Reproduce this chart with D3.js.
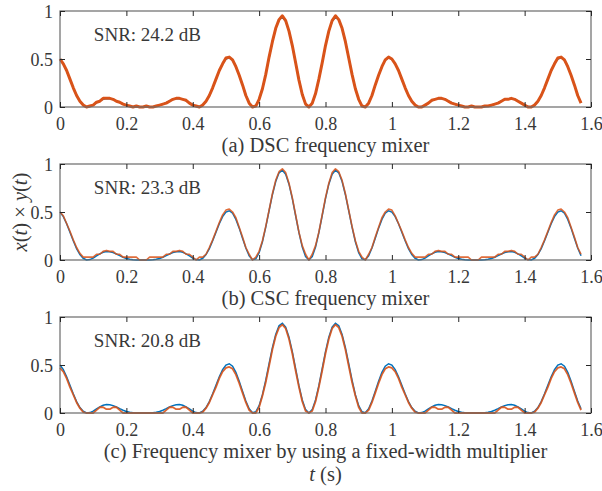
<!DOCTYPE html>
<html>
<head>
<meta charset="utf-8">
<script src="https://cdn.jsdelivr.net/npm/d3@7/dist/d3.min.js"></script>
<style>
    body { margin: 0; background: #fff; }
    svg { display: block; font-family: "Liberation Serif", "Times New Roman", serif; }
</style>
</head>
<body>
<div id="chart"></div>
<script>
// samples every 0.01 s, starting at t = 0
const dt = 0.01;

// ideal product x(t) * y(t) (blue)
const ideal = [
    .500, .452, .378, .290, .200, .119, .057, .018, .001, .004,
    .020, .042, .064, .080, .088, .086, .077, .062, .045, .029,
    .016, .007, .003, .001, .000, .000, .000, .001, .003, .007,
    .016, .029, .045, .062, .077, .086, .088, .080, .064, .042,
    .020, .004, .001, .018, .057, .119, .200, .290, .378, .452,
    .500, .513, .487, .423, .332, .226, .124, .044, .003, .012,
    .076, .190, .342, .513, .680, .818, .908, .935, .894, .790,
    .639, .461, .285, .135, .035, .000, .035, .135, .285, .461,
    .639, .790, .894, .935, .908, .818, .680, .513, .342, .190,
    .076, .012, .003, .044, .124, .226, .332, .423, .487, .513,
    .500, .452, .378, .290, .200, .119, .057, .018, .001, .004,
    .020, .042, .064, .080, .088, .086, .077, .062, .045, .029,
    .016, .007, .003, .001, .000, .000, .000, .001, .003, .007,
    .016, .029, .045, .062, .077, .086, .088, .080, .064, .042,
    .020, .004, .001, .018, .057, .119, .200, .290, .378, .452,
    .500, .513, .487, .423, .332, .226, .124, .044
];

// (a) DSC frequency mixer output
const dsc = [
    .50, .45, .38, .29, .20, .12, .06, .02, .00, .01,
    .02, .05, .06, .09, .09, .09, .08, .06, .05, .03,
    .02, .01, .00, .01, .00, .00, .01, .00, .00, .01,
    .02, .03, .04, .06, .08, .09, .09, .08, .07, .04,
    .02, .01, .00, .02, .06, .12, .20, .29, .38, .45,
    .51, .52, .49, .42, .33, .23, .12, .04, .00, .01,
    .08, .19, .34, .52, .68, .82, .91, .95, .90, .79,
    .64, .46, .28, .13, .03, .00, .04, .14, .29, .46,
    .64, .79, .90, .95, .91, .82, .68, .51, .34, .19,
    .08, .01, .00, .04, .12, .23, .33, .42, .49, .52,
    .50, .45, .38, .29, .20, .12, .06, .02, .00, .00,
    .02, .04, .07, .08, .09, .09, .08, .06, .04, .03,
    .02, .01, .00, .00, .01, .00, .00, .00, .01, .01,
    .02, .03, .04, .06, .08, .08, .09, .08, .06, .04,
    .02, .00, .00, .02, .06, .12, .20, .29, .38, .45,
    .51, .52, .49, .42, .33, .23, .12, .04
];

// (b) CSC frequency mixer output
const csc = [
    .50, .46, .38, .30, .21, .13, .07, .03, .03, .03,
    .03, .06, .06, .09, .10, .09, .09, .06, .06, .03,
    .03, .03, .03, .03, .00, .00, .00, .03, .03, .03,
    .03, .03, .06, .06, .09, .09, .10, .09, .06, .06,
    .03, .00, .03, .03, .06, .13, .21, .30, .39, .47,
    .52, .53, .50, .44, .34, .24, .13, .06, .00, .03,
    .09, .20, .35, .52, .69, .83, .92, .95, .91, .80,
    .65, .47, .29, .15, .06, .00, .06, .15, .29, .47,
    .65, .80, .91, .95, .92, .83, .69, .52, .35, .20,
    .09, .03, .00, .06, .13, .24, .34, .44, .50, .53,
    .52, .46, .38, .30, .21, .13, .07, .03, .03, .03,
    .03, .06, .06, .09, .10, .09, .09, .06, .06, .03,
    .03, .03, .03, .03, .00, .00, .00, .03, .03, .03,
    .03, .03, .06, .06, .09, .09, .10, .09, .06, .06,
    .03, .00, .03, .03, .06, .13, .21, .30, .39, .47,
    .52, .53, .50, .44, .34, .24, .13, .06
];

// (c) fixed-width multiplier output
const fixedWidth = [
    .47, .43, .36, .27, .19, .11, .05, .01, .00, .00,
    .00, .03, .06, .06, .04, .04, .06, .06, .03, .00,
    .00, .00, .00, .00, .00, .00, .00, .00, .00, .00,
    .00, .00, .03, .06, .06, .04, .04, .06, .06, .03,
    .00, .00, .00, .01, .05, .11, .19, .27, .36, .43,
    .47, .48, .46, .40, .31, .21, .11, .03, .00, .00,
    .06, .18, .32, .49, .66, .80, .89, .92, .88, .77,
    .62, .44, .27, .12, .02, .00, .02, .12, .27, .44,
    .62, .77, .88, .92, .89, .80, .66, .49, .32, .18,
    .06, .00, .00, .03, .11, .21, .31, .40, .46, .48,
    .47, .43, .36, .27, .19, .11, .05, .01, .00, .00,
    .00, .03, .06, .06, .04, .04, .06, .06, .03, .00,
    .00, .00, .00, .00, .00, .00, .00, .00, .00, .00,
    .00, .00, .03, .06, .06, .04, .04, .06, .06, .03,
    .00, .00, .00, .01, .05, .11, .19, .27, .36, .43,
    .47, .48, .46, .40, .31, .21, .11, .03
];

const xTicks = [0, 0.2, 0.4, 0.6, 0.8, 1, 1.2, 1.4, 1.6];
const yTicks = [0, 0.5, 1];

const captions = ['(a) DSC frequency mixer', '(b) CSC frequency mixer',
    '(c) Frequency mixer by using a fixed-width multiplier'];
const snrLabels = ['SNR: 24.2 dB', 'SNR: 23.3 dB', 'SNR: 20.8 dB'];

const panels = [
    { caption: captions[0], snr: snrLabels[0], values: dsc, width: 3, opacity: 1 },
    { caption: captions[1], snr: snrLabels[1], values: csc, width: 1.6, opacity: 0.85 },
    { caption: captions[2], snr: snrLabels[2], values: fixedWidth, width: 1.8, opacity: 0.9 }
];

const W = 602, H = 491;
const left = 60, right = 591, plotH = 96;
const tops = [11, 164, 317];
const textColor = '#383838';
const blue = '#0072BD', orange = '#D95319';

const svg = d3.select('#chart').append('svg')
    .attr('width', W)
    .attr('height', H);

const x = d3.scaleLinear().domain([0, 1.6]).range([left, right]);

panels.forEach((p, i) => {
    const top = tops[i];
    const y = d3.scaleLinear().domain([0, 1]).range([top + plotH, top]);
    const g = svg.append('g');

    const line = d3.line()
        .x((d, k) => x(k * dt))
        .y(d => y(d));

    g.append('path')
        .attr('d', line(ideal))
        .attr('fill', 'none')
        .attr('stroke', blue)
        .attr('stroke-width', 1.5);

    g.append('path')
        .attr('d', line(p.values))
        .attr('fill', 'none')
        .attr('stroke', orange)
        .attr('stroke-opacity', p.opacity)
        .attr('stroke-width', p.width)
        .attr('stroke-linejoin', 'round');

    // box
    g.append('rect')
        .attr('x', left)
        .attr('y', top)
        .attr('width', right - left)
        .attr('height', plotH)
        .attr('fill', 'none')
        .attr('stroke', '#6a6a6a')
        .attr('stroke-width', 1.2);

    // inward ticks on all four sides
    const styleAxis = sel => {
        sel.select('.domain').remove();
        sel.selectAll('line').attr('stroke', '#262626');
        sel.selectAll('text')
            .attr('fill', textColor)
            .style('font-size', '18px')
            .style('font-family', '"Liberation Serif", "Times New Roman", serif');
    };

    g.append('g')
        .attr('transform', `translate(0,${top + plotH})`)
        .call(d3.axisBottom(x).tickValues(xTicks).tickSizeInner(-5).tickSizeOuter(0)
            .tickFormat(d => String(d)))
        .call(styleAxis)
        .call(s => s.selectAll('text').attr('y', 23).attr('dy', null));

    g.append('g')
        .attr('transform', `translate(0,${top})`)
        .call(d3.axisTop(x).tickValues(xTicks).tickSizeInner(-5).tickSizeOuter(0).tickFormat(''))
        .call(styleAxis);

    g.append('g')
        .attr('transform', `translate(${left},0)`)
        .call(d3.axisLeft(y).tickValues(yTicks).tickSizeInner(-5).tickSizeOuter(0)
            .tickFormat(d => String(d)))
        .call(styleAxis)
        .call(s => s.selectAll('text').attr('x', -7).attr('dy', '0.34em'));

    g.append('g')
        .attr('transform', `translate(${right},0)`)
        .call(d3.axisRight(y).tickValues(yTicks).tickSizeInner(-5).tickSizeOuter(0).tickFormat(''))
        .call(styleAxis);

    g.append('text')
        .attr('x', x(0.102))
        .attr('y', top + 30)
        .attr('fill', textColor)
        .style('font-size', '19px')
        .text(p.snr);

    g.append('text')
        .attr('x', (left + right) / 2)
        .attr('y', top + plotH + 45)
        .attr('text-anchor', 'middle')
        .attr('fill', textColor)
        .style('font-size', '20.5px')
        .text(p.caption);
});

// x label
const xl = svg.append('text')
    .attr('x', (left + right) / 2)
    .attr('y', 481)
    .attr('text-anchor', 'middle')
    .attr('fill', textColor)
    .style('font-size', '20.5px');
xl.append('tspan').style('font-style', 'italic').text('t');
xl.append('tspan').text(' (s)');

// y label
const yl = svg.append('text')
    .attr('transform', `translate(27,${tops[1] + plotH / 2}) rotate(-90)`)
    .attr('text-anchor', 'middle')
    .attr('fill', textColor)
    .style('font-size', '20.5px');
yl.append('tspan').style('font-style', 'italic').text('x');
yl.append('tspan').text('(');
yl.append('tspan').style('font-style', 'italic').text('t');
yl.append('tspan').text(') × ');
yl.append('tspan').style('font-style', 'italic').text('y');
yl.append('tspan').text('(');
yl.append('tspan').style('font-style', 'italic').text('t');
yl.append('tspan').text(')');
</script>
</body>
</html>
